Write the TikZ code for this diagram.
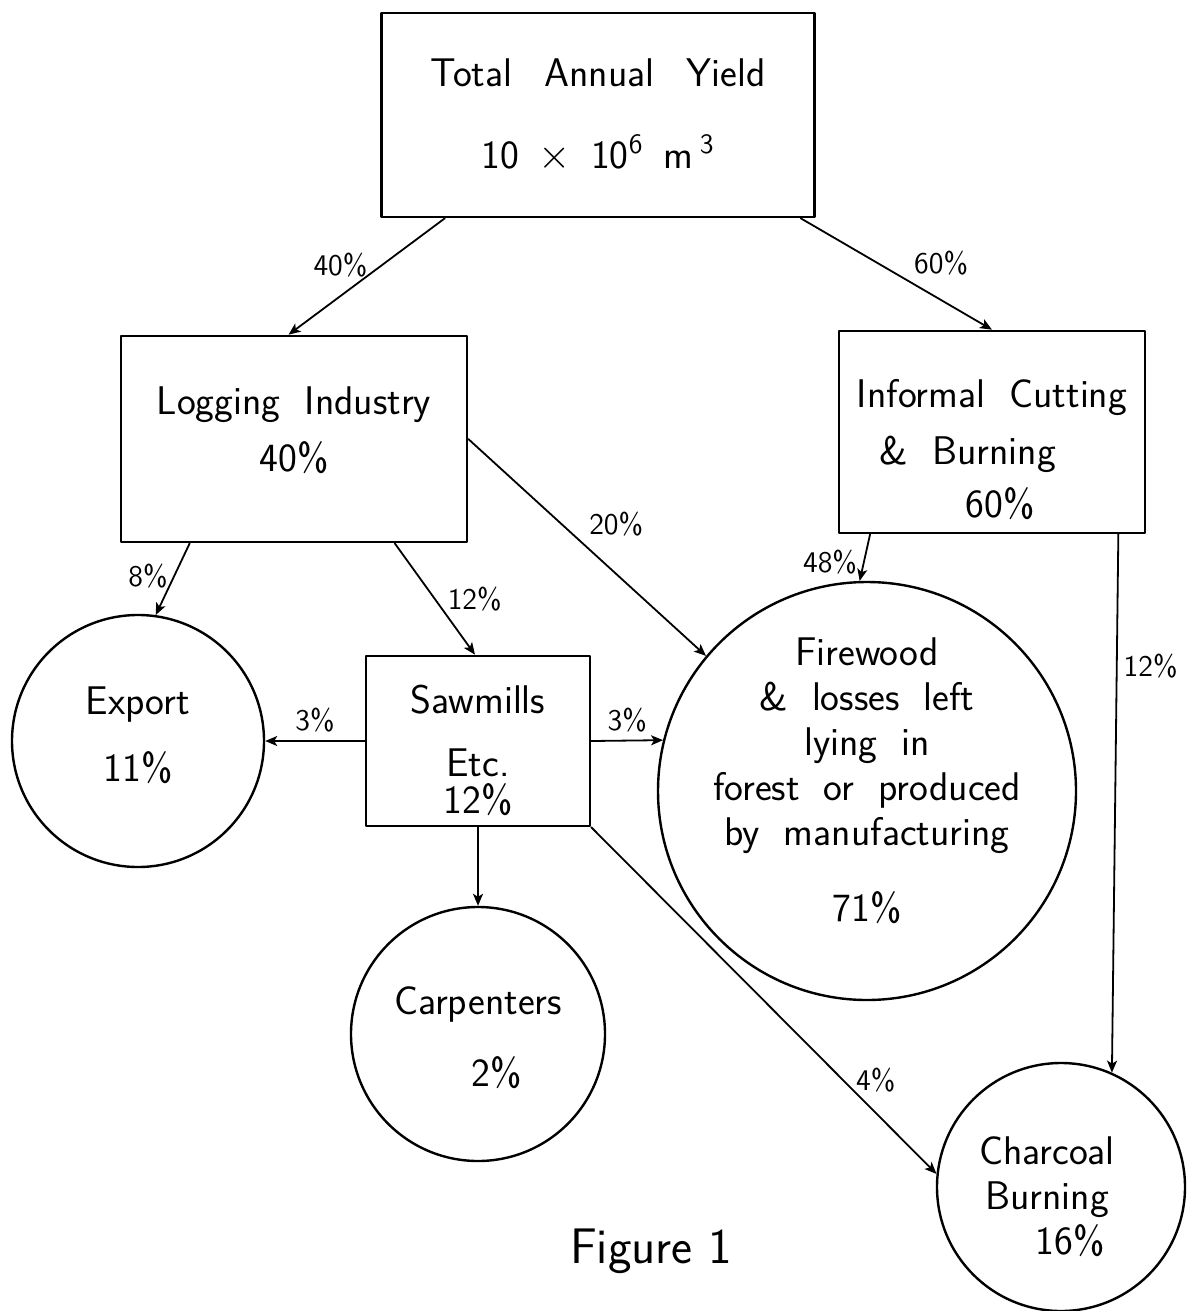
\documentclass[tikz,border=0pt]{standalone}
\usetikzlibrary{arrows.meta}
\newcommand{\handfont}{\sffamily\fontsize{20}{22.5}\selectfont\spaceskip=0.6em\relax}
\begin{document}
\begin{tikzpicture}[x=0.5pt, y=-0.5pt, line join=round, line cap=round,
	>={Stealth[length=6pt,width=5pt,inset=1.5pt]},
	box/.style={draw, rectangle, line width=1.3pt, align=center, inner sep=0pt, font=\handfont},
	disc/.style={draw, circle, line width=1.2pt, inner sep=0pt},
	every label/.style={align=center, inner sep=0pt, font=\handfont},
	pct/.style={font=\sffamily\fontsize{15}{16}\selectfont, inner sep=1pt},
	flow/.style={->, line width=0.9pt}]
	
	\useasboundingbox (0,0) rectangle (1191,1311);
	
	% boxes
	\node[box, minimum width=216.5pt, minimum height=102pt] (total) at (598,115)
		{Total\hspace{0.8em}Annual\hspace{0.8em}Yield\\[18.5pt]10\enspace$\times$\enspace 10\textsuperscript{6}\enspace m\,\textsuperscript{3}};
	\node[box, minimum width=173pt, minimum height=103pt, text height=34pt] (logging) at (294,439)
		{Logging Industry\\[6pt]40\%};
	\node[box, minimum width=153pt, minimum height=101pt, text height=87pt] (informal) at (992,432)
		{Informal Cutting\\[6pt]\& Burning\hspace*{24pt}\mbox{}\\[4pt]\hspace*{8pt}60\%};
	\node[box, minimum width=112pt, minimum height=85pt, text height=74pt] (sawmills) at (478,741)
		{Sawmills\\[9pt]Etc.\\[-4pt]12\%};
	
	% circles
	\node[disc, minimum size=126pt, label={[yshift=3pt]center:{Export\\[11pt]11\%}}] (export) at (138,741) {};
	\node[disc, minimum size=209pt, label={[yshift=5pt]center:{Firewood\\\& losses left\\lying in\\forest or produced\\by manufacturing\\[15.5pt]71\%}}] (firewood) at (867,791) {};
	\node[disc, minimum size=127pt, label={[yshift=-2pt]center:{Carpenters\\[13.5pt]\hspace*{19pt}2\%}}] (carpenters) at (478,1034) {};
	\node[disc, minimum size=124pt, label={[xshift=-7pt, yshift=-5pt]center:{Charcoal\\Burning\\\hspace*{23pt}16\%}}] (charcoal) at (1061,1187) {};
	
	% flows
	\draw[flow] (total.214.6) -- node[pct, pos=0.4, left=6pt] {40\%} (logging.93);
	\draw[flow] (total.-27.4) -- node[pct, pos=0.4, right=17pt] {60\%} (informal.north);
	\draw[flow] (logging.225.3) -- node[pct, pos=0.45, left=2pt] {8\%} (export.82);
	\draw[flow] (logging.-46.4) -- node[pct, pos=0.5, right=5pt] {12\%} (sawmills.92);
	\draw[flow] (logging.east) -- node[pct, pos=0.48, above right=2pt] {20\%} (firewood.140);
	\draw[flow] (informal.220.3) -- node[pct, pos=0.6, left=2pt] {48\%} (firewood.92.5);
	\draw[flow] (informal.-39.9) -- node[pct, pos=0.245, right=2pt] {12\%} (charcoal.66.8);
	\draw[flow] (sawmills.west) -- node[pct, midway, above=3pt] {3\%} (export.east);
	\draw[flow] (sawmills.east) -- node[pct, midway, above=3pt] {3\%} (firewood.166);
	\draw[flow] (sawmills.south) -- (carpenters.north);
	\draw[flow] (sawmills.south east) -- node[pct, pos=0.73, right=5pt] {4\%} (charcoal.174);
	
	\node[anchor=base, font=\sffamily\fontsize{25}{28}\selectfont] (caption) at (651,1263) {Figure 1};
\end{tikzpicture}
\end{document}
